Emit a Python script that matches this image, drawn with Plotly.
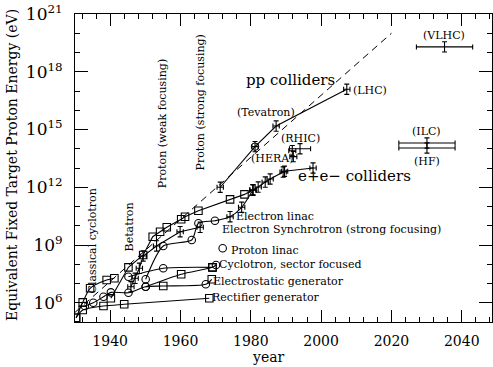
import plotly.graph_objects as go

# ---------------- data (year, log10 of equivalent energy in eV) ----------------
# marker codes: s = open square, o = open circle, x = error-bar cross
rect_year = [1930.3, 1932.2, 1938.1, 1944.0, 1968.2]
rect_log = [5.22, 5.62, 5.83, 5.92, 6.23]
rect_sym = ["s", "s", "s", "s", "s"]

estat_year = [1932.8, 1935.2, 1938.1, 1940.2, 1945.2, 1950.1, 1955.1, 1967.2, 1968.9]
estat_log = [5.83, 6.00, 6.31, 6.54, 6.52, 6.83, 6.87, 6.96, 7.22]
estat_sym = ["o", "o", "o", "o", "o", "o", "s", "o", "s"]

ccyc_year = [1930.3, 1932.2, 1934.3, 1939.0, 1941.2]
ccyc_log = [5.22, 6.02, 6.75, 7.18, 7.27]
ccyc_sym = ["s", "s", "s", "s", "s"]

synccyc_year = [1945.2, 1955.1, 1969.1]
synccyc_log = [7.35, 7.79, 7.84]
synccyc_sym = ["o", "o", "s"]

sector_year = [1950.1, 1960.2, 1969.1, 1970.1]
sector_log = [6.83, 7.48, 7.84, 7.96]
sector_sym = ["o", "s", "s", "o"]

betatron_year = [1945.9, 1947.1, 1948.3, 1949.4, 1953.2, 1959.9, 1965.6]
betatron_log = [6.83, 7.27, 7.79, 8.43, 8.95, 9.69, 9.92]
betatron_sym = ["x", "x", "x", "x", "x", "x", "x"]

electron_year = [1950.1, 1955.1, 1963.2, 1965.1, 1969.8, 1974.1, 1977.4, 1980.6]
electron_log = [7.22, 8.95, 9.26, 10.13, 10.26, 10.47, 10.96, 11.86]
electron_sym = ["o", "o", "o", "o", "o", "x", "x", "x"]

proton_year = [1940.2, 1945.2, 1949.4, 1952.1, 1954.2, 1956.1, 1960.2, 1961.3,
               1965.1, 1974.1, 1978.2, 1980.6]
proton_log = [6.23, 7.84, 8.48, 9.43, 9.69, 9.92, 10.34, 10.47, 10.78, 11.37, 11.63, 11.86]
proton_sym = ["s", "s", "s", "s", "s", "s", "s", "s", "s", "s", "s", "x"]

plinac_year = [1972.0]
plinac_log = [8.83]
plinac_sym = ["o"]

ee_year = [1980.6, 1982.1, 1984.1, 1985.5, 1989.2, 1989.6, 1997.7]
ee_log = [11.86, 12.01, 12.27, 12.43, 12.79, 12.83, 13.00]
ee_sym = ["x", "x", "x", "x", "x", "x", "x"]

pp_year = [1971.3, 1981.2, 1987.2, 2007.3]
pp_log = [12.00, 14.11, 15.18, 17.09]
pp_sym = ["x", "x", "x", "x"]

# standalone colliders: year, log10 E, half-width of year bar
hera_year, hera_log, hera_xerr = [1992.1], [13.59], [1.0]
rhic_year, rhic_log, rhic_xerr = [1991.8, 1994.0], [13.90, 14.00], [1.0, 3.0]
future_year = [2030.1, 2030.1, 2035.1]
future_log = [14.30, 14.04, 19.29]
future_xerr = [8.0, 8.0, 8.0]

# dashed trend line
trend_year = [1930, 2020]
trend_log = [5.5, 20.0]

# axis ticks
x_ticks = [1940, 1960, 1980, 2000, 2020, 2040]
y_tick_exp = [6, 9, 12, 15, 18, 21]

# ---------------- figure ----------------
fig = go.Figure()
BLACK = "black"


def to_e(logs):
    return [10.0 ** v for v in logs]


def add_crosses(xs, logs, xerr=0.9):
    if not xs:
        return
    ex = xerr if isinstance(xerr, list) else [xerr] * len(xs)
    fig.add_trace(go.Scatter(
        x=xs, y=to_e(logs), mode="markers",
        marker=dict(size=1, color=BLACK),
        error_x=dict(type="data", array=ex, color=BLACK, thickness=1.1, width=2.5),
        error_y=dict(type="percent", value=85, valueminus=46, symmetric=False,
                     color=BLACK, thickness=1.1, width=2.5),
        hoverinfo="skip", showlegend=False))


def add_chain(years, logs, syms, shape="spline"):
    fig.add_trace(go.Scatter(
        x=years, y=to_e(logs), mode="lines",
        line=dict(color=BLACK, width=1.1, shape=shape, smoothing=0.7),
        hoverinfo="skip", showlegend=False))
    for code, psym in (("s", "square-open"), ("o", "circle-open")):
        xs = [x for x, s in zip(years, syms) if s == code]
        ys = [v for v, s in zip(logs, syms) if s == code]
        if xs:
            fig.add_trace(go.Scatter(
                x=xs, y=to_e(ys), mode="markers",
                marker=dict(symbol=psym, size=7.5, color=BLACK, line=dict(width=1.1, color=BLACK)),
                hoverinfo="skip", showlegend=False))
    xs = [x for x, s in zip(years, syms) if s == "x"]
    ys = [v for v, s in zip(logs, syms) if s == "x"]
    add_crosses(xs, ys)


# trend line
fig.add_trace(go.Scatter(x=trend_year, y=to_e(trend_log), mode="lines",
                         line=dict(color=BLACK, width=1, dash="7px,5px"),
                         hoverinfo="skip", showlegend=False))

add_chain(rect_year, rect_log, rect_sym)
add_chain(estat_year, estat_log, estat_sym)
add_chain(ccyc_year, ccyc_log, ccyc_sym)
add_chain(synccyc_year, synccyc_log, synccyc_sym)
add_chain(sector_year, sector_log, sector_sym)
add_chain(betatron_year, betatron_log, betatron_sym, shape="linear")
add_chain(electron_year, electron_log, electron_sym)
add_chain(proton_year, proton_log, proton_sym, shape="linear")
add_chain(plinac_year, plinac_log, plinac_sym)
add_chain(ee_year, ee_log, ee_sym, shape="linear")
add_chain(pp_year, pp_log, pp_sym, shape="linear")
fig.add_trace(go.Scatter(x=[pp_year[1]], y=to_e([pp_log[1]]), mode="markers",
                         marker=dict(symbol="circle-open", size=7.5, color=BLACK),
                         hoverinfo="skip", showlegend=False))

add_crosses(hera_year, hera_log, hera_xerr)
add_crosses(rhic_year, rhic_log, rhic_xerr)
add_crosses(future_year, future_log, future_xerr)

# ---------------- labels ----------------
SERIF = "DejaVu Serif"


def label(x, y, text, size=11, xanchor="left", angle=0):
    fig.add_annotation(x=x, y=y, xref="x", yref="y", text=text, showarrow=False,
                       xanchor=xanchor, yanchor="middle", textangle=angle,
                       borderpad=0, font=dict(family=SERIF, size=size, color=BLACK))


label(1968.8, 6.25, "Rectifier generator")
label(1969.1, 7.13, "Electrostatic generator")
label(1970.8, 8.01, "Cyclotron, sector focused")
label(1974.2, 8.74, "Proton linac")
label(1971.6, 9.80, "Electron Synchrotron (strong focusing)")
label(1975.6, 10.50, "Electron linac")
label(1993.2, 12.58, "e+e− colliders", size=15)
label(1978.4, 17.57, "pp colliders", size=15)
label(2008.9, 17.05, "(LHC)")
label(1984.3, 15.86, "(Tevatron)", xanchor="center")
label(1994.0, 14.51, "(RHIC)", xanchor="center")
label(1986.0, 13.50, "(HERA)", xanchor="center")
label(2030.1, 14.92, "(ILC)", xanchor="center")
label(2030.1, 13.36, "(HF)", xanchor="center")
label(2035.0, 19.86, "(VLHC)", xanchor="center")
label(1934.9, 9.2, "Classical cyclotron", xanchor="center", angle=-90)
label(1945.5, 9.94, "Betatron", xanchor="center", angle=-90)
label(1955.1, 15.29, "Proton (weak focusing)", xanchor="center", angle=-90)
label(1965.7, 16.38, "Proton (strong focusing)", xanchor="center", angle=-90)

# axis titles
fig.add_annotation(x=-0.151, y=0.51, xref="paper", yref="paper",
                   text="Equivalent Fixed Target Proton Energy (eV)", showarrow=False,
                   textangle=-90, xanchor="center", yanchor="middle",
                   font=dict(family=SERIF, size=14, color=BLACK))
fig.add_annotation(x=0.463, y=-0.114, xref="paper", yref="paper", text="year",
                   showarrow=False, xanchor="center", yanchor="middle",
                   font=dict(family=SERIF, size=14, color=BLACK))

x_minor = [y for y in range(1932, 2049, 4) if y not in x_ticks]
y_minor = [10.0 ** e for e in range(5, 22) if e not in y_tick_exp]

fig.update_layout(
    width=493, height=367,
    margin=dict(l=75, r=1, t=14, b=45),
    plot_bgcolor="white", paper_bgcolor="white",
    font=dict(family=SERIF, color=BLACK),
    showlegend=False,
)
fig.update_xaxes(
    range=[1930, 2048.6], tickmode="array", tickvals=x_ticks,
    ticks="inside", ticklen=12, tickwidth=1, tickcolor=BLACK,
    showline=True, linecolor=BLACK, linewidth=1, mirror="allticks",
    showgrid=False, zeroline=False, tickfont=dict(family=SERIF, size=14),
    ticklabelstandoff=6,
    minor=dict(tickmode="array", tickvals=x_minor, ticks="inside", ticklen=5,
               tickwidth=1, tickcolor=BLACK, showgrid=False),
)
fig.update_yaxes(
    type="log", range=[5, 21], tickmode="array",
    tickvals=[10.0 ** e for e in y_tick_exp],
    ticktext=[f"10<sup>{e}</sup>" for e in y_tick_exp],
    ticks="inside", ticklen=13, tickwidth=1, tickcolor=BLACK,
    showline=True, linecolor=BLACK, linewidth=1, mirror="allticks",
    showgrid=False, zeroline=False, tickfont=dict(family=SERIF, size=17),
    ticklabelstandoff=8,
    minor=dict(tickmode="array", tickvals=y_minor, ticks="inside", ticklen=5,
               tickwidth=1, tickcolor=BLACK, showgrid=False),
)

fig.write_html("out.html")
